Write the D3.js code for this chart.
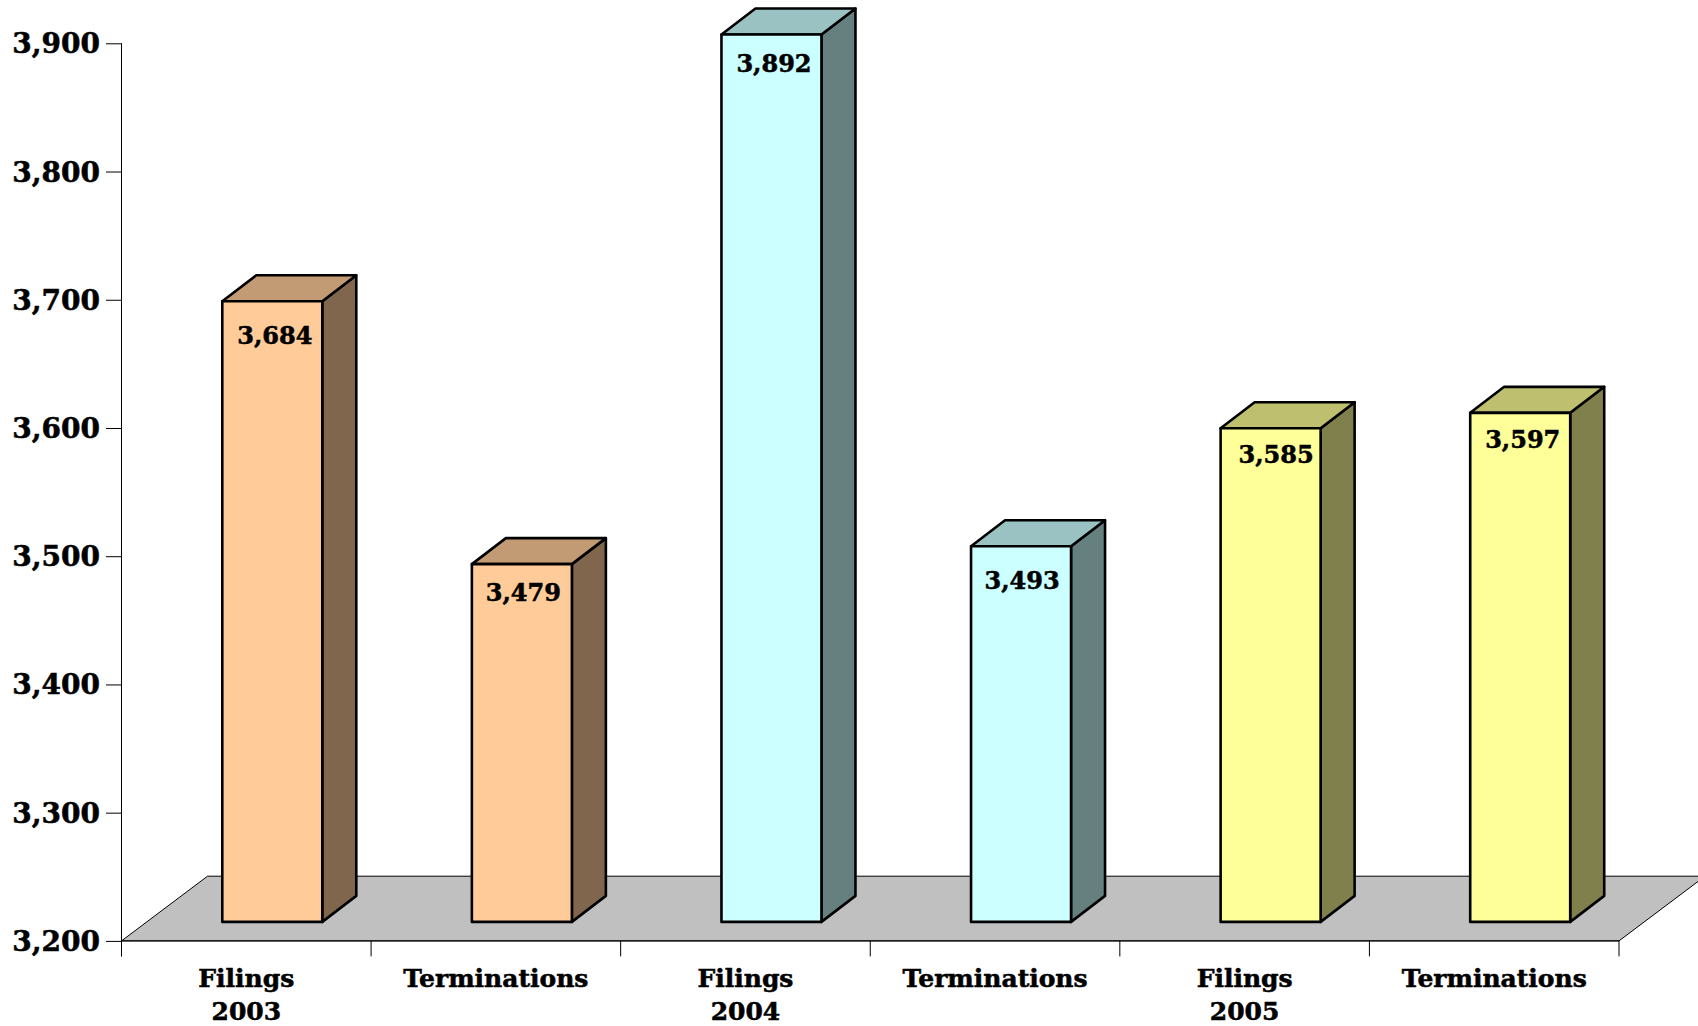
<!DOCTYPE html>
<html><head><meta charset="utf-8">
<script src="https://cdn.jsdelivr.net/npm/d3@7"></script>
<style>
html,body{margin:0;padding:0;background:#fff;overflow:hidden}
text{font-family:"DejaVu Serif",serif;font-weight:bold;fill:#000;stroke:#000;stroke-width:0.55px}
</style></head><body><svg id="c" width="1698" height="1026"></svg>
<script>
const categories=["Filings 2003","Terminations 2003","Filings 2004","Terminations 2004","Filings 2005","Terminations 2005"];
const axisLabels=[["Filings","2003"],["Terminations"],["Filings","2004"],["Terminations"],["Filings","2005"],["Terminations"]];
const values=[3684,3479,3892,3493,3585,3597];
const frontColors=["#FFCC99","#FFCC99","#CCFFFF","#CCFFFF","#FFFF99","#FFFF99"];
const topColors=["#C29B74","#C29B74","#9BC2C2","#9BC2C2","#BFBF70","#BFBF70"];
const sideColors=["#80664D","#80664D","#668080","#668080","#80804D","#80804D"];
const yTicks=[3200,3300,3400,3500,3600,3700,3800,3900];

const svg=d3.select("#c");
const y=d3.scaleLinear().domain([3200,3900]).range([940.9,43.3]);
const x=d3.scaleBand().domain(categories).range([121.5,1619]);
const fmt=d3.format(",");
const floorDx=86,floorDy=64.7,barDx=34,barDy=26,baseLift=19,barW=100,barShift=26;
const labelNudgeX=[0,-1,0,-1.5,3,0];
const labelNudgeY=[-1,-7,-7,-1,-9,-8.5];

// floor
const [x0,x1]=x.range(),y0=y.range()[0];
svg.append("path").attr("d",`M${x0},${y0}L${x0+floorDx},${y0-floorDy}L${x1+floorDx},${y0-floorDy}L${x1},${y0}Z`)
  .attr("fill","#C0C0C0").attr("stroke","#000").attr("stroke-width",1);

// axes
const gy=svg.append("g").attr("transform",`translate(${x0},0)`)
  .call(d3.axisLeft(y).tickValues(yTicks).tickFormat(fmt).tickSize(15.5).tickPadding(6));
gy.selectAll("text").style("font-size","28px").style("font-family",'"DejaVu Serif",serif').style("font-weight","bold").attr("dy","0.34em");
gy.select(".domain").attr("d",`M0,${y(3900)}V${y0+15.5}`);
const gx=svg.append("g").attr("transform",`translate(0,${y0})`)
  .call(d3.axisBottom(x).tickSize(0).tickFormat(""));
gx.select(".domain").attr("d",`M${x0},0H${x1}V15.5`);
const tickPos=categories.map(c=>x(c));
gx.selectAll("line.t").data(tickPos).join("line").attr("class","t")
  .attr("x1",d=>d).attr("x2",d=>d).attr("y1",0).attr("y2",15.5).attr("stroke","#000");

// category labels
const lab=svg.append("g").selectAll("text").data(axisLabels).join("text")
  .attr("text-anchor","middle").style("font-size","25px")
  .attr("transform",(d,i)=>`translate(${x(categories[i])+x.bandwidth()/2},986.5)`);
lab.selectAll("tspan").data(d=>d).join("tspan").attr("x",0).attr("y",(d,i)=>i*33).text(d=>d);

// bars
const bars=svg.append("g").selectAll("g").data(values).join("g")
  .attr("stroke","#000").attr("stroke-width",2.6).attr("stroke-linejoin","round");
const L=(d,i)=>x(categories[i])+x.bandwidth()/2+barShift-barW/2;
const B=y0-baseLift, T=d=>y(d)-baseLift;
bars.append("path").attr("fill",(d,i)=>sideColors[i])
  .attr("d",(d,i)=>{const r=L(d,i)+barW;return `M${r},${T(d)}L${r+barDx},${T(d)-barDy}V${B-barDy}L${r},${B}Z`});
bars.append("path").attr("fill",(d,i)=>topColors[i])
  .attr("d",(d,i)=>{const l=L(d,i);return `M${l},${T(d)}L${l+barDx},${T(d)-barDy}H${l+barW+barDx}L${l+barW},${T(d)}Z`});
bars.append("rect").attr("fill",(d,i)=>frontColors[i])
  .attr("x",(d,i)=>L(d,i)).attr("y",d=>T(d)).attr("width",barW).attr("height",d=>B-T(d));

// value labels
svg.append("g").selectAll("text").data(values).join("text")
  .attr("text-anchor","middle").style("font-size","24px")
  .attr("x",(d,i)=>L(d,i)+barW/2+2.5+labelNudgeX[i]).attr("y",(d,i)=>T(d)+44+labelNudgeY[i]).text(fmt);
</script></body></html>
